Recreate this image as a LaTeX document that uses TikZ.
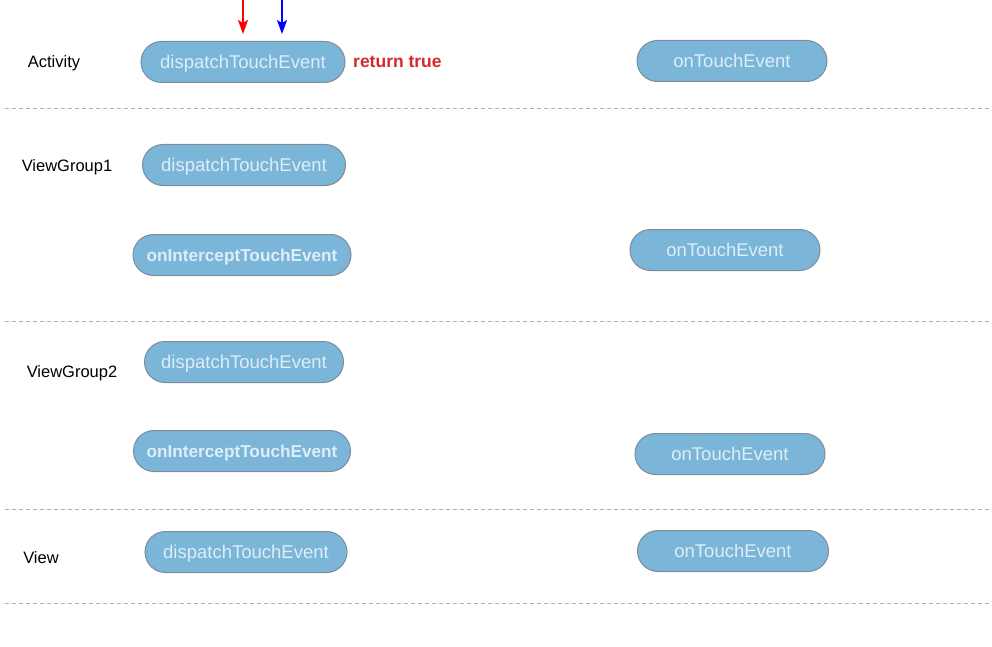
\documentclass[tikz,border=0pt]{standalone}
\usepackage{fontspec}
\setmainfont{Liberation Sans}
\usetikzlibrary{arrows.meta}
\definecolor{pillfill}{HTML}{7BB5D8}
\definecolor{pillline}{HTML}{7E8C99}
\definecolor{pilltext}{HTML}{DDEEF8}
\definecolor{sepline}{HTML}{B0B0B0}
\definecolor{retred}{HTML}{D42A2A}
\begin{document}
\begin{tikzpicture}[x=1pt,y=-1pt,
  pill/.style={draw=pillline, line width=1pt, fill=pillfill, rounded corners=20.5pt,
    minimum height=41pt, inner sep=0pt, text depth=0pt, text=pilltext,
    font=\fontsize{18.5}{20}\selectfont},
  boldpill/.style={pill, font=\fontsize{17.2}{20}\selectfont\bfseries},
  layer/.style={font=\fontsize{16.5}{18}\selectfont, text=black, text depth=0pt},
  sep/.style={draw=sepline, dashed, dash pattern=on 4pt off 3pt, line width=0.8pt},
  flow/.style={-{Stealth[length=14pt,width=10pt,inset=3pt]}, line width=1.5pt}]
\useasboundingbox (0,0) rectangle (992,647);

% layer labels
\node[layer] (lA) at (54,62) {Activity};
\node[layer] (lG1) at (67,166) {ViewGroup1};
\node[layer] (lG2) at (72,372) {ViewGroup2};
\node[layer] (lV) at (41,558) {View};

% Activity
\node[pill, minimum width=204pt] (aD) at (243,62) {dispatchTouchEvent};
\node[pill, minimum width=190pt] (aT) at (732,61) {onTouchEvent};
\node[text=retred, font=\fontsize{17.5}{20}\selectfont\bfseries, anchor=west,
  inner sep=0pt, text depth=0pt] (ret) at (353,62) {return true};

% ViewGroup1
\node[pill, minimum width=203pt] (g1D) at (244,165) {dispatchTouchEvent};
\node[boldpill, minimum width=218pt] (g1I) at (242,255) {onInterceptTouchEvent};
\node[pill, minimum width=190pt] (g1T) at (725,250) {onTouchEvent};

% ViewGroup2
\node[pill, minimum width=199pt] (g2D) at (244,362) {dispatchTouchEvent};
\node[boldpill, minimum width=217pt] (g2I) at (242,451) {onInterceptTouchEvent};
\node[pill, minimum width=190pt] (g2T) at (730,454) {onTouchEvent};

% View
\node[pill, minimum width=202pt] (vD) at (246,552) {dispatchTouchEvent};
\node[pill, minimum width=191pt] (vT) at (733,551) {onTouchEvent};

% incoming event arrows, stopping just above the Activity dispatcher
\coordinate (inR) at (243,0);
\coordinate (inB) at (282,0);
\draw[flow, red] (inR) -- ([yshift=7pt]aD.north -| inR);
\draw[flow, blue] (inB) -- ([yshift=7pt]aD.north -| inB);

% layer separators
\coordinate (s1a) at (5,108);  \coordinate (s1b) at (990,108);
\coordinate (s2a) at (5,321);  \coordinate (s2b) at (990,321);
\coordinate (s3a) at (5,509);  \coordinate (s3b) at (990,509);
\coordinate (s4a) at (5,603);  \coordinate (s4b) at (990,603);
\draw[sep] (s1a) -- (s1b);
\draw[sep] (s2a) -- (s2b);
\draw[sep] (s3a) -- (s3b);
\draw[sep] (s4a) -- (s4b);
\end{tikzpicture}
\end{document}
